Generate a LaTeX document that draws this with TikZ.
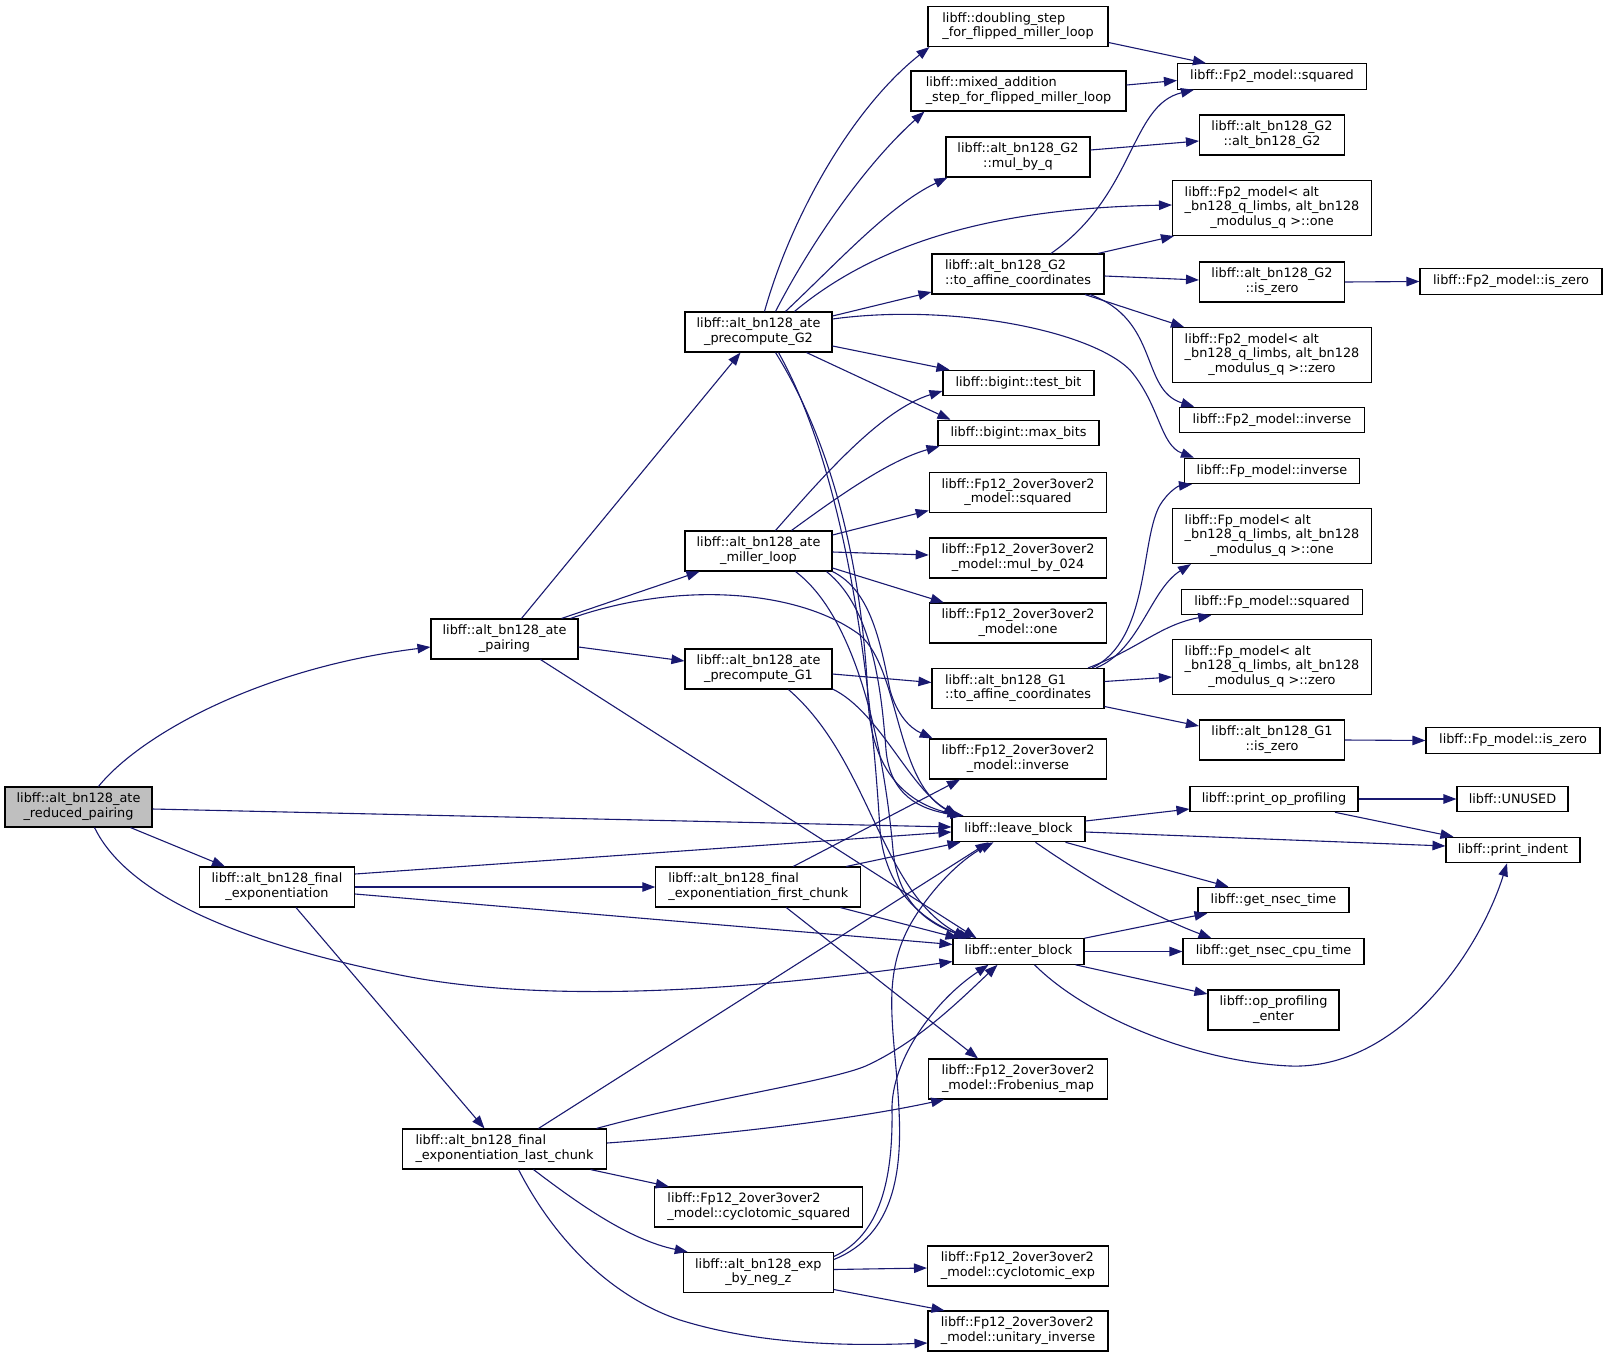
\documentclass[tikz,border=0pt]{standalone}
\usepackage{fontspec}
\newfontfamily\dvsans{DejaVu Sans}
\usetikzlibrary{arrows.meta}
\definecolor{callblue}{HTML}{191970}
\definecolor{rootgrey}{HTML}{BFBFBF}
\newcommand{\fnlabel}[2]{\begin{tabular}{@{}c@{}}\multicolumn{1}{@{}l@{}}{#1}\\#2\end{tabular}}
\tikzset{
  fnnode/.style = {draw=black, line width=1.1pt, rectangle, fill=white,
    inner sep=0pt, font=\dvsans\fontsize{12.85}{14.7}\selectfont},
  fn_1/.style = {fnnode, minimum height=25.5pt},% une ligne
  fn_2/.style = {fnnode, minimum height=40pt},% deux lignes
  fn_3/.style = {fnnode, minimum height=55pt},% trois lignes
  fn_r/.style = {fn_2, fill=rootgrey},% fonction de depart
  calledge/.style = {->, draw=callblue, line width=1.1pt}% appel
}

\begin{document}
\begin{tikzpicture}[x=1pt, y=-1pt, >={Triangle[length=13pt,width=9.5pt]}]
\useasboundingbox (0,0) rectangle (1605,1357);
% colonne 1 et 2
\node[fn_r, minimum width=147pt] (rp) at (78.5,807) {\fnlabel{libff::alt\_bn128\_ate}{\_reduced\_pairing}};
\node[fn_2, minimum width=155pt] (fe) at (277,887) {\fnlabel{libff::alt\_bn128\_final}{\_exponentiation}};
\node[fn_2, minimum width=147pt] (ap) at (504.5,639) {\fnlabel{libff::alt\_bn128\_ate}{\_pairing}};
\node[fn_2, minimum width=204pt] (lc) at (504.5,1149) {\fnlabel{libff::alt\_bn128\_final}{\_exponentiation\_last\_chunk}};
% colonne 3
\node[fn_2, minimum width=147pt] (pg2) at (758.5,332) {\fnlabel{libff::alt\_bn128\_ate}{\_precompute\_G2}};
\node[fn_2, minimum width=147pt] (ml) at (758.5,551) {\fnlabel{libff::alt\_bn128\_ate}{\_miller\_loop}};
\node[fn_2, minimum width=147pt] (pg1) at (758.5,669) {\fnlabel{libff::alt\_bn128\_ate}{\_precompute\_G1}};
\node[fn_2, minimum width=205pt] (fc) at (758.3,887) {\fnlabel{libff::alt\_bn128\_final}{\_exponentiation\_first\_chunk}};
\node[fn_2, minimum width=208pt] (cs) at (758.8,1207) {\fnlabel{libff::Fp12\_2over3over2}{\_model::cyclotomic\_squared}};
\node[fn_2, minimum width=150pt] (ez) at (758.3,1272.5) {\fnlabel{libff::alt\_bn128\_exp}{\_by\_neg\_z}};
% colonne 4
\node[fn_2, minimum width=180pt] (ds) at (1018,26.5) {\fnlabel{libff::doubling\_step}{\_for\_flipped\_miller\_loop}};
\node[fn_2, minimum width=215pt] (ma) at (1018.5,91) {\fnlabel{libff::mixed\_addition}{\_step\_for\_flipped\_miller\_loop}};
\node[fn_2, minimum width=144pt] (mq) at (1018,157) {\fnlabel{libff::alt\_bn128\_G2}{::mul\_by\_q}};
\node[fn_2, minimum width=172pt] (ta2) at (1018,274) {\fnlabel{libff::alt\_bn128\_G2}{::to\_affine\_coordinates}};
\node[fn_1, minimum width=151pt] (tb) at (1018.5,383) {libff::bigint::test\_bit};
\node[fn_1, minimum width=161pt] (mb) at (1018.5,433) {libff::bigint::max\_bits};
\node[fn_2, minimum width=177.5pt] (fsq) at (1018,492.5) {\fnlabel{libff::Fp12\_2over3over2}{\_model::squared}};
\node[fn_2, minimum width=177.5pt] (f024) at (1018,558) {\fnlabel{libff::Fp12\_2over3over2}{\_model::mul\_by\_024}};
\node[fn_2, minimum width=177.5pt] (fone) at (1018,623) {\fnlabel{libff::Fp12\_2over3over2}{\_model::one}};
\node[fn_2, minimum width=172pt] (ta1) at (1018,688.5) {\fnlabel{libff::alt\_bn128\_G1}{::to\_affine\_coordinates}};
\node[fn_2, minimum width=177.5pt] (finv) at (1018,759) {\fnlabel{libff::Fp12\_2over3over2}{\_model::inverse}};
\node[fn_1, minimum width=133pt] (lb) at (1018.5,829) {libff::leave\_block};
\node[fn_1, minimum width=131pt] (eb) at (1018.5,951.5) {libff::enter\_block};
\node[fn_2, minimum width=178.5pt] (frob) at (1018,1079) {\fnlabel{libff::Fp12\_2over3over2}{\_model::Frobenius\_map}};
\node[fn_2, minimum width=181pt] (cexp) at (1018,1266) {\fnlabel{libff::Fp12\_2over3over2}{\_model::cyclotomic\_exp}};
\node[fn_2, minimum width=180pt] (uinv) at (1018,1331) {\fnlabel{libff::Fp12\_2over3over2}{\_model::unitary\_inverse}};
% colonne 5
\node[fn_1, minimum width=189pt] (f2sq) at (1272,76.5) {libff::Fp2\_model::squared};
\node[fn_2, minimum width=145pt] (g2c) at (1272,135) {\fnlabel{libff::alt\_bn128\_G2}{::alt\_bn128\_G2}};
\node[fn_3, minimum width=199pt] (f2one) at (1272,208) {\fnlabel{libff::Fp2\_model< alt}{\_bn128\_q\_limbs, alt\_bn128\\\_modulus\_q >::one}};
\node[fn_2, minimum width=145pt] (g2z) at (1272,282) {\fnlabel{libff::alt\_bn128\_G2}{::is\_zero}};
\node[fn_3, minimum width=199pt] (f2zero) at (1272,355) {\fnlabel{libff::Fp2\_model< alt}{\_bn128\_q\_limbs, alt\_bn128\\\_modulus\_q >::zero}};
\node[fn_1, minimum width=184.5pt] (f2inv) at (1272,420) {libff::Fp2\_model::inverse};
\node[fn_1, minimum width=175pt] (fpinv) at (1272,471) {libff::Fp\_model::inverse};
\node[fn_3, minimum width=199pt] (fpone) at (1272,536) {\fnlabel{libff::Fp\_model< alt}{\_bn128\_q\_limbs, alt\_bn128\\\_modulus\_q >::one}};
\node[fn_1, minimum width=180.5pt] (fpsq) at (1272,602) {libff::Fp\_model::squared};
\node[fn_3, minimum width=199pt] (fpzero) at (1272,667) {\fnlabel{libff::Fp\_model< alt}{\_bn128\_q\_limbs, alt\_bn128\\\_modulus\_q >::zero}};
\node[fn_2, minimum width=145pt] (g1z) at (1272,740) {\fnlabel{libff::alt\_bn128\_G1}{::is\_zero}};
\node[fn_1, minimum width=168pt] (pop) at (1274,799) {libff::print\_op\_profiling};
\node[fn_1, minimum width=151pt] (gnt) at (1273.5,900) {libff::get\_nsec\_time};
\node[fn_1, minimum width=181pt] (gnc) at (1273.5,951.5) {libff::get\_nsec\_cpu\_time};
\node[fn_2, minimum width=131pt] (ope) at (1273.5,1010) {\fnlabel{libff::op\_profiling}{\_enter}};
% colonne 6
\node[fn_1, minimum width=182pt] (f2z) at (1511,281.5) {libff::Fp2\_model::is\_zero};
\node[fn_1, minimum width=174pt] (fpz) at (1513,740.5) {libff::Fp\_model::is\_zero};
\node[fn_1, minimum width=111pt] (unused) at (1512.5,799) {libff::UNUSED};
\node[fn_1, minimum width=134pt] (pin) at (1513,850) {libff::print\_indent};

% appels de rp
\draw[calledge] ([shift={(20,0)}]rp.north) .. controls (140,735) and (260,668) .. ([shift={(0,8)}]ap.west);
\draw[calledge] ([shift={(0,2)}]rp.east) -- ([shift={(0,-2)}]lb.west);
\draw[calledge] ([shift={(52,0)}]rp.south) -- ([shift={(-52,0)}]fe.north);
\draw[calledge] ([shift={(16,0)}]rp.south) .. controls (120,880) and (200,935) .. (400,975) .. controls (550,1005) and (750,990) .. ([shift={(0,10)}]eb.west);
% appels de ap
\draw[calledge] ([shift={(17,0)}]ap.north) -- ([shift={(-18,0)}]pg2.south);
\draw[calledge] ([shift={(57,0)}]ap.north) -- ([shift={(-59,0)}]ml.south);
\draw[calledge] ([shift={(0,8)}]ap.east) -- ([shift={(0,-8)}]pg1.west);
\draw[calledge] ([shift={(66,0)}]ap.north) .. controls (680,580) and (800,590) .. (860,635) .. controls (900,670) and (895,780) .. ([shift={(-62,0)}]lb.north);
\draw[calledge] ([shift={(36,0)}]ap.south) -- ([shift={(-42,0)}]eb.north);
% appels de pg2
\draw[calledge] ([shift={(6,0)}]pg2.north) .. controls (790,220) and (850,110) .. ([shift={(2,0)}]ds.south west);
\draw[calledge] ([shift={(17,0)}]pg2.north) .. controls (815,235) and (870,160) .. ([shift={(14,0)}]ma.south west);
\draw[calledge] ([shift={(27,0)}]pg2.north) .. controls (840,260) and (890,205) .. ([shift={(2,0)}]mq.south west);
\draw[calledge] ([shift={(36,0)}]pg2.north) .. controls (880,240) and (1000,208) .. ([shift={(0,-3)}]f2one.west);
\draw[calledge] ([shift={(0,-16)}]pg2.east) -- ([shift={(0,18)}]ta2.west);
\draw[calledge] ([shift={(0,-13)}]pg2.east) .. controls (950,303) and (1090,330) .. (1130,370) .. controls (1160,405) and (1160,445) .. ([shift={(10,0)}]fpinv.north west);
\draw[calledge] ([shift={(0,14)}]pg2.east) -- ([shift={(7,0)}]tb.north west);
\draw[calledge] ([shift={(48,0)}]pg2.south) -- ([shift={(13,0)}]mb.north west);
\draw[calledge] ([shift={(17,0)}]pg2.south) .. controls (830,440) and (862,560) .. (868,700) .. controls (872,780) and (915,805) .. ([shift={(-58,0)}]lb.north);
\draw[calledge] ([shift={(20,0)}]pg2.south) .. controls (850,480) and (872,700) .. (880,830) .. controls (886,900) and (935,925) .. ([shift={(-50,0)}]eb.north);
\draw[calledge] ([shift={(0,16)}]ds.east) -- ([shift={(29,0)}]f2sq.north west);
\draw[calledge] ([shift={(0,-6)}]ma.east) -- ([shift={(0,4)}]f2sq.west);
\draw[calledge] ([shift={(0,-7)}]mq.east) -- ([shift={(0,6)}]g2c.west);
% appels de ta2
\draw[calledge] ([shift={(33,0)}]ta2.north) .. controls (1135,195) and (1130,105) .. ([shift={(17,0)}]f2sq.south west);
\draw[calledge] ([shift={(80,0)}]ta2.north) -- ([shift={(2,0)}]f2one.south west);
\draw[calledge] ([shift={(0,2)}]ta2.east) -- ([shift={(0,-2)}]g2z.west);
\draw[calledge] ([shift={(67,0)}]ta2.south) -- ([shift={(12,0)}]f2zero.north west);
\draw[calledge] ([shift={(72,0)}]ta2.south) .. controls (1160,320) and (1140,390) .. ([shift={(15,0)}]f2inv.north west);
\draw[calledge] (g2z.east) -- (f2z.west);
% appels de ml
\draw[calledge] ([shift={(17,0)}]ml.north) .. controls (820,480) and (880,410) .. ([shift={(0,8)}]tb.west);
\draw[calledge] ([shift={(33,0)}]ml.north) .. controls (840,495) and (890,460) .. ([shift={(2,0)}]mb.south west);
\draw[calledge] ([shift={(0,-16)}]ml.east) -- ([shift={(0,18)}]fsq.west);
\draw[calledge] ([shift={(0,1)}]ml.east) -- ([shift={(0,-3)}]f024.west);
\draw[calledge] ([shift={(0,17)}]ml.east) -- ([shift={(15,0)}]fone.north west);
\draw[calledge] (ml.south east) .. controls (870,590) and (880,640) .. (890,690) .. controls (897,715) and (910,728) .. ([shift={(4,0)}]finv.north west);
\draw[calledge] ([shift={(68,0)}]ml.south) .. controls (875,610) and (882,700) .. (886,750) .. controls (890,795) and (920,810) .. ([shift={(-55,0)}]lb.north);
\draw[calledge] ([shift={(37,0)}]ml.south) .. controls (860,620) and (885,760) .. (893,850) .. controls (898,905) and (930,925) .. ([shift={(-47,0)}]eb.north);
% appels de pg1 et ta1
\draw[calledge] ([shift={(0,5)}]pg1.east) -- ([shift={(0,-6)}]ta1.west);
\draw[calledge] ([shift={(0,20)}]pg1.east) .. controls (880,712) and (910,790) .. ([shift={(-60,0)}]lb.north);
\draw[calledge] ([shift={(30,0)}]pg1.south) .. controls (870,760) and (880,890) .. ([shift={(-52,0)}]eb.north);
\draw[calledge] ([shift={(74,0)}]ta1.north) .. controls (1150,640) and (1140,540) .. (1160,505) .. controls (1168,492) and (1178,486) .. ([shift={(8,0)}]fpinv.south west);
\draw[calledge] ([shift={(78,0)}]ta1.north) .. controls (1140,650) and (1150,590) .. ([shift={(19,0)}]fpone.south west);
\draw[calledge] ([shift={(70,0)}]ta1.north) .. controls (1140,648) and (1160,625) .. ([shift={(30,0)}]fpsq.south west);
\draw[calledge] ([shift={(0,-7)}]ta1.east) -- ([shift={(0,10)}]fpzero.west);
\draw[calledge] ([shift={(0,18)}]ta1.east) -- ([shift={(0,-14)}]g1z.west);
\draw[calledge] (g1z.east) -- (fpz.west);
% appels de fe et fc
\draw[calledge] ([shift={(0,-13)}]fe.east) -- ([shift={(0,3)}]lb.west);
\draw[calledge] (fe.east) -- (fc.west);
\draw[calledge] ([shift={(0,7)}]fe.east) -- ([shift={(0,-7)}]eb.west);
\draw[calledge] ([shift={(19,0)}]fe.south) -- ([shift={(-20,0)}]lc.north);
\draw[calledge] ([shift={(35,0)}]fc.north) -- ([shift={(-58,0)}]finv.south);
\draw[calledge] ([shift={(88,0)}]fc.north) -- ([shift={(-58,0)}]lb.south);
\draw[calledge] ([shift={(82,0)}]fc.south) -- ([shift={(-60,0)}]eb.north);
\draw[calledge] ([shift={(28,0)}]fc.south) -- ([shift={(-40,0)}]frob.north);
% appels de lc et ez
\draw[calledge] ([shift={(34,0)}]lc.north) -- ([shift={(-30,0)}]lb.south);
\draw[calledge] ([shift={(92,0)}]lc.north) .. controls (700,1100) and (840,1080) .. (870,1064) .. controls (920,1040) and (960,1000) .. ([shift={(-21,0)}]eb.south);
\draw[calledge] ([shift={(0,-6)}]lc.east) .. controls (720,1135) and (850,1120) .. ([shift={(16,0)}]frob.south west);
\draw[calledge] ([shift={(86,0)}]lc.south) -- ([shift={(-90,0)}]cs.north);
\draw[calledge] ([shift={(29,0)}]lc.south) .. controls (580,1205) and (630,1240) .. ([shift={(5,0)}]ez.north west);
\draw[calledge] ([shift={(14,0)}]lc.south) .. controls (560,1250) and (620,1300) .. (680,1320) .. controls (760,1345) and (850,1346) .. ([shift={(0,12)}]uinv.west);
\draw[calledge] ([shift={(0,-13)}]ez.east) .. controls (895,1235) and (902,1170) .. (899,1110) .. controls (895,1030) and (880,980) .. (910,925) .. controls (930,890) and (960,860) .. ([shift={(-25,0)}]lb.south);
\draw[calledge] ([shift={(0,-16)}]ez.east) .. controls (880,1235) and (893,1180) .. (892,1110) .. controls (891,1060) and (935,1000) .. ([shift={(-30,0)}]eb.south);
\draw[calledge] ([shift={(0,-3)}]ez.east) -- ([shift={(0,2)}]cexp.west);
\draw[calledge] ([shift={(0,17)}]ez.east) -- ([shift={(17,0)}]uinv.north west);
% appels de lb, pop et eb
\draw[calledge] ([shift={(0,-8)}]lb.east) -- ([shift={(0,10)}]pop.west);
\draw[calledge] ([shift={(0,3)}]lb.east) -- ([shift={(0,-4)}]pin.west);
\draw[calledge] ([shift={(47,0)}]lb.south) -- ([shift={(-45,0)}]gnt.north);
\draw[calledge] ([shift={(17,0)}]lb.south) .. controls (1090,880) and (1150,915) .. ([shift={(-62,0)}]gnc.north);
\draw[calledge] (pop.east) -- (unused.west);
\draw[calledge] ([shift={(61,0)}]pop.south) -- ([shift={(8,0)}]pin.north west);
\draw[calledge] (eb.north east) -- ([shift={(10,0)}]gnt.south west);
\draw[calledge] (eb.east) -- (gnc.west);
\draw[calledge] ([shift={(57,0)}]eb.south) -- ([shift={(0,-16)}]ope.west);
\draw[calledge] ([shift={(16,0)}]eb.south) .. controls (1090,1020) and (1200,1062) .. (1290,1066) .. controls (1400,1070) and (1480,950) .. ([shift={(-6,0)}]pin.south);
\end{tikzpicture}
\end{document}
